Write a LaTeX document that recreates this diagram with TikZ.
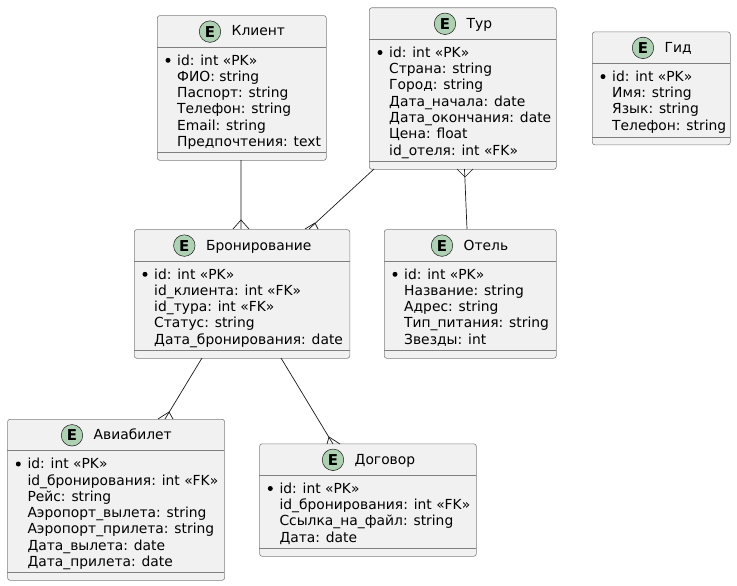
\documentclass[tikz,border=0pt]{standalone}
\usepackage{fontspec}
\setmainfont{DejaVu Sans}
\definecolor{boxfill}{HTML}{F1F1F1}
\definecolor{boxline}{HTML}{7F7F7F}
\definecolor{spot}{HTML}{ADD1B2}
\definecolor{ink}{HTML}{181818}
\tikzset{
  entbox/.style={draw=boxline,fill=boxfill,line width=.6pt,rounded corners=2.5pt,anchor=north west,inner sep=0pt},
  sep/.style={draw=boxline,line width=.6pt},
  spotc/.style={circle,draw=ink,fill=spot,line width=.5pt,minimum size=21.5pt,inner sep=0pt,font=\fontsize{15}{15}\selectfont\bfseries,text=black},
  ttl/.style={font=\fontsize{13.85}{14}\selectfont,text=black,anchor=base west,inner sep=0pt},
  rows/.style={font=\fontsize{13.85}{16.3}\selectfont,text=black,align=left,anchor=north west,inner sep=0pt},
  dot/.style={circle,fill=black,minimum size=5pt,inner sep=0pt},
  conn/.style={draw=ink,line width=.7pt},
}
% name, x1, y1, x2, y2, footer y, spot x, title, rows
\newcommand{\ent}[9]{%
  \node[entbox,minimum width=#4pt-#2pt,minimum height=#5pt-#3pt] (#1) at (#2,#3) {};
  \draw[sep] (#2,#3+31.7) -- (#4,#3+31.7) (#2,#6) -- (#4,#6);
  \node[spotc] (#1s) at (#7,#3+16.3) {E};
  \node[ttl] (#1t) at (#7+21.5,#3+20.7) {#8};
  \node[dot] (#1d) at (#2+11,#3+45) {};
  \node[rows] (#1r) at (#2+20,#3+39) {#9};
}
\begin{document}
\begin{tikzpicture}[x=1pt,y=-1pt]
\useasboundingbox (0,0) rectangle (737,586);
\ent{kl}{157}{15.3}{326}{160}{152}{210}{Клиент}{id: int «PK»\\ФИО: string\\Паспорт: string\\Телефон: string\\Email: string\\Предпочтения: text}
\ent{tu}{369}{7.5}{556}{169}{161}{445}{Тур}{id: int «PK»\\Страна: string\\Город: string\\Дата\_начала: date\\Дата\_окончания: date\\Цена: float\\id\_отеля: int «FK»}
\ent{gi}{592}{31.6}{730}{144.5}{137}{643}{Гид}{id: int «PK»\\Имя: string\\Язык: string\\Телефон: string}
\ent{br}{134}{229.3}{349.5}{358}{350}{184.3}{Бронирование}{id: int «PK»\\id\_клиента: int «FK»\\id\_тура: int «FK»\\Статус: string\\Дата\_бронирования: date}
\ent{ot}{384}{229.3}{556}{358}{350}{442}{Отель}{id: int «PK»\\Название: string\\Адрес: string\\Тип\_питания: string\\Звезды: int}
\ent{av}{7.3}{419}{224.3}{580}{572}{72}{Авиабилет}{id: int «PK»\\id\_бронирования: int «FK»\\Рейс: string\\Аэропорт\_вылета: string\\Аэропорт\_прилета: string\\Дата\_вылета: date\\Дата\_прилета: date}
\ent{do}{259.3}{443.5}{476}{556}{548}{333}{Договор}{id: int «PK»\\id\_бронирования: int «FK»\\Ссылка\_на\_файл: string\\Дата: date}
% connector anchors on the box borders
\coordinate (a1) at (241,160); \coordinate (b1) at (241,229);
\coordinate (a2) at (374,169); \coordinate (b2) at (309,229);
\coordinate (a3) at (202,358); \coordinate (b3) at (165,419);
\coordinate (a4) at (281,358); \coordinate (b4) at (333,444);
\coordinate (a5) at (467,229); \coordinate (b5) at (464.5,169);
\draw[conn] (a1) -- (b1) (a2) -- (b2) (a3) -- (b3) (a4) -- (b4) (a5) -- (b5);
\draw[conn] (233,229) -- (241,220) -- (249,229);
\draw[conn] (305,229) -- (315,223) -- (318,229);
\draw[conn] (158,419) -- (169,412) -- (173,419);
\draw[conn] (327,444) -- (329,437) -- (340,444);
\draw[conn] (457,169) -- (465,177) -- (473,169);
\end{tikzpicture}
\end{document}
